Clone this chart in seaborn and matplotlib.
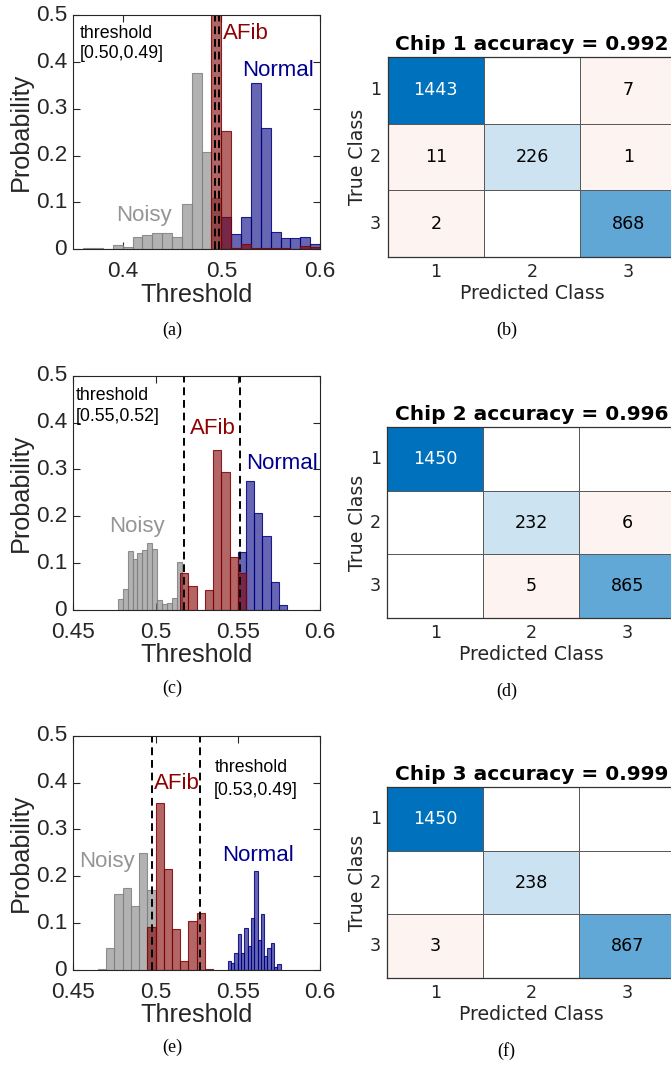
import numpy as np
import pandas as pd
import matplotlib
matplotlib.use("Agg")
import matplotlib.pyplot as plt
import seaborn as sns
from matplotlib.colors import LinearSegmentedColormap, ListedColormap, to_rgba

# ---------------- histogram data (bin start, bin width, bar heights) ----------------
# Chip 1
c1_noisy_start, c1_noisy_width = 0.36, 0.01
c1_noisy = [0.002, 0.003, 0.001, 0.009, 0.004, 0.026, 0.030, 0.035, 0.034, 0.026, 0.097, 0.376, 0.207, 0.109]
c1_afib_start, c1_afib_width = 0.49, 0.01
c1_afib = [0.60, 0.253, 0.002, 0.011, 0.002, 0.002, 0.003, 0.003, 0.001, 0.008, 0.004]
c1_normal_start, c1_normal_width = 0.50, 0.01
c1_normal = [0.070, 0.032, 0.068, 0.356, 0.259, 0.036, 0.024, 0.024, 0.026, 0.011]
c1_thresholds = [0.4935, 0.498]
c1_label = "[0.50,0.49]"

# Chip 2
c2_noisy_start, c2_noisy_width = 0.477, 0.003
c2_noisy = [0.023, 0.045, 0.126, 0.108, 0.121, 0.128, 0.144, 0.131, 0.021, 0.013, 0.016, 0.025, 0.102]
c2_afib_start, c2_afib_width = 0.515, 0.005
c2_afib = [0.080, 0.051, 0.0, 0.043, 0.341, 0.294, 0.114, 0.080]
c2_normal_start, c2_normal_width = 0.550, 0.005
c2_normal = [0.124, 0.275, 0.206, 0.158, 0.060, 0.011]
c2_thresholds = [0.5175, 0.5513]
c2_label = "[0.55,0.52]"

# Chip 3
c3_noisy_start, c3_noisy_width = 0.465, 0.005
c3_noisy = [0.002, 0.048, 0.163, 0.174, 0.136, 0.249, 0.171]
c3_afib_start, c3_afib_width = 0.495, 0.005
c3_afib = [0.092, 0.357, 0.215, 0.087, 0.019, 0.104, 0.121, 0.002]
c3_normal_start, c3_normal_width = 0.544, 0.002
c3_normal = [0.020, 0.014, 0.037, 0.077, 0.037, 0.089, 0.051, 0.110, 0.211, 0.064,
             0.119, 0.030, 0.048, 0.057, 0.007, 0.013]
c3_thresholds = [0.4977, 0.527]
c3_label = "[0.53,0.49]"

# ---------------- confusion matrices ----------------
class_labels = ["1", "2", "3"]
cm1 = [[1443, 0, 7], [11, 226, 1], [2, 0, 868]]
cm2 = [[1450, 0, 0], [0, 232, 6], [0, 5, 865]]
cm3 = [[1450, 0, 0], [0, 238, 0], [3, 0, 867]]
cm_titles = ["Chip 1 accuracy = 0.992", "Chip 2 accuracy = 0.996", "Chip 3 accuracy = 0.999"]
captions = ["(a)", "(b)", "(c)", "(d)", "(e)", "(f)"]

# ---------------- style ----------------
sns.set_theme(style="white")
plt.rcParams['font.family'] = ['Liberation Sans', 'DejaVu Sans']

GRAY, RED, BLUE = '#808080', '#800000', '#000080'
TXT = '#262626'
W, H = 671, 1065
fig = plt.figure(figsize=(W / 100, H / 100), dpi=100)


def px_axes(left, top, right, bottom):
    return fig.add_axes([left / W, 1 - bottom / H, (right - left) / W, (bottom - top) / H])


def draw_hist(ax, groups, thresholds, xlim, xticks, xticklabels, texts):
    for start, width, heights, color in groups:
        heights = np.asarray(heights, dtype=float)
        edges = start + width * np.arange(len(heights) + 1)
        centers = edges[:-1] + width / 2
        df = pd.DataFrame({'value': centers, 'prob': heights})
        sns.histplot(data=df, x='value', weights='prob', bins=[float(e) for e in edges],
                     stat='count', color=color, alpha=0.6,
                     edgecolor=to_rgba(color, 0.85), linewidth=0.8, ax=ax)
    for t in thresholds:
        ax.axvline(t, color='black', ls=(0, (4, 2.5)), lw=1.4)
    ax.set_xlim(*xlim)
    ax.set_ylim(0, 0.5)
    ax.set_xticks(xticks)
    ax.set_xticklabels(xticklabels)
    ax.set_yticks([0, 0.1, 0.2, 0.3, 0.4, 0.5])
    ax.set_yticklabels(['0', '0.1', '0.2', '0.3', '0.4', '0.5'], va='center')
    ax.tick_params(direction='in', length=5, width=0.8, top=True, right=True,
                   bottom=True, left=True, colors=TXT, labelsize=16.2)
    ax.tick_params(axis='x', pad=8.5)
    ax.tick_params(axis='y', pad=4.5)
    ax.set_xlabel('Threshold', fontsize=18.2, color=TXT, labelpad=0.5)
    ax.set_ylabel('Probability', fontsize=18.2, color=TXT, labelpad=2)
    for sp in ax.spines.values():
        sp.set_visible(True)
        sp.set_color(TXT)
        sp.set_linewidth(0.8)
    for (x, y, s, c, fs) in texts:
        ax.text(x, y, s, color=c, fontsize=fs, ha='left', va='center')


blue_cmap = LinearSegmentedColormap.from_list('mblue', ['#ffffff', '#0072BD'])
PINK = '#fdf3f0'


def draw_cm(ax, cm, title):
    cm = np.asarray(cm)
    n = cm.shape[0]
    diag = np.eye(n, dtype=bool)
    zero = (cm == 0) & ~diag
    off = (cm > 0) & ~diag
    df = pd.DataFrame(cm, index=class_labels, columns=class_labels)
    vmax = cm[diag].max()
    kw = dict(cbar=False, linewidths=0.7, linecolor='#5a5a5a', ax=ax)
    sns.heatmap(df, mask=~zero, cmap=ListedColormap(['white']), vmin=0, vmax=1,
                annot=False, **kw)
    sns.heatmap(df, mask=~off, cmap=ListedColormap([PINK]), vmin=0, vmax=1,
                annot=True, fmt='d', annot_kws=dict(color='black', size=12.6), **kw)
    sns.heatmap(df, mask=~diag, cmap=blue_cmap, vmin=-0.0526 * vmax, vmax=vmax,
                annot=True, fmt='d', annot_kws=dict(color='black', size=12.6), **kw)
    for t in ax.texts:
        if t.get_text() == str(vmax):
            t.set_color('white')
    ax.set_xticklabels(class_labels, rotation=0)
    ax.set_yticklabels(class_labels, rotation=0)
    ax.tick_params(length=0, colors=TXT, labelsize=12.6)
    ax.tick_params(axis='x', pad=4.3)
    ax.tick_params(axis='y', pad=4.7)
    ax.set_xlabel('Predicted Class', fontsize=13.6, color=TXT, labelpad=2)
    ax.set_ylabel('True Class', fontsize=13.6, color=TXT, labelpad=2)
    ax.set_title(title, fontsize=14.5, fontweight='bold', color='black', pad=5)
    for sp in ax.spines.values():
        sp.set_visible(True)
        sp.set_color('#333333')
        sp.set_linewidth(0.9)


# ---------------- histograms ----------------
ax_a = px_axes(73.3, 15.3, 320, 249.3)
draw_hist(ax_a,
          [(c1_noisy_start, c1_noisy_width, c1_noisy, GRAY),
           (c1_normal_start, c1_normal_width, c1_normal, BLUE),
           (c1_afib_start, c1_afib_width, c1_afib, RED)],
          c1_thresholds, (0.35, 0.6), [0.4, 0.5, 0.6], ['0.4', '0.5', '0.6'],
          [(0.3568, 0.462, 'threshold', 'black', 12.8),
           (0.3568, 0.419, c1_label, 'black', 12.8),
           (0.5014, 0.462, 'AFib', '#900000', 16),
           (0.5206, 0.383, 'Normal', '#000090', 16),
           (0.3933, 0.073, 'Noisy', '#959595', 16)])

ax_c = px_axes(73.3, 375.7, 320, 610)
draw_hist(ax_c,
          [(c2_noisy_start, c2_noisy_width, c2_noisy, GRAY),
           (c2_normal_start, c2_normal_width, c2_normal, BLUE),
           (c2_afib_start, c2_afib_width, c2_afib, RED)],
          c2_thresholds, (0.45, 0.6), [0.45, 0.5, 0.55, 0.6], ['0.45', '0.5', '0.55', '0.6'],
          [(0.4516, 0.458, 'threshold', 'black', 12.8),
           (0.4516, 0.412, c2_label, 'black', 12.8),
           (0.521, 0.387, 'AFib', '#900000', 16),
           (0.5548, 0.313, 'Normal', '#000090', 16),
           (0.4719, 0.178, 'Noisy', '#959595', 16)])

ax_e = px_axes(73.3, 735.7, 320, 970)
draw_hist(ax_e,
          [(c3_noisy_start, c3_noisy_width, c3_noisy, GRAY),
           (c3_normal_start, c3_normal_width, c3_normal, BLUE),
           (c3_afib_start, c3_afib_width, c3_afib, RED)],
          c3_thresholds, (0.45, 0.6), [0.45, 0.5, 0.55, 0.6], ['0.45', '0.5', '0.55', '0.6'],
          [(0.5362, 0.433, 'threshold', 'black', 12.8),
           (0.5357, 0.384, c3_label, 'black', 12.8),
           (0.4992, 0.398, 'AFib', '#900000', 16),
           (0.5402, 0.245, 'Normal', '#000090', 16),
           (0.4536, 0.231, 'Noisy', '#959595', 16)])

# ---------------- confusion matrices ----------------
plt.rcParams['font.family'] = ['DejaVu Sans']
ax_b = px_axes(387.7, 56.7, 676.7, 257.3)
draw_cm(ax_b, cm1, cm_titles[0])
ax_d = px_axes(387.3, 426.7, 675.3, 618.3)
draw_cm(ax_d, cm2, cm_titles[1])
ax_f = px_axes(387.3, 786.7, 675.3, 978.3)
draw_cm(ax_f, cm3, cm_titles[2])

# ---------------- captions ----------------
cap_pos = [(172, 330), (506.7, 330), (172, 688), (506.7, 691.7), (172, 1047), (506.7, 1051)]
for (cx, cy), cap in zip(cap_pos, captions):
    fig.text(cx / W, 1 - cy / H, cap, ha='center', va='center', fontsize=13,
             family=['Liberation Serif', 'DejaVu Serif'], color='black')

fig.savefig('out.png', dpi=100)
